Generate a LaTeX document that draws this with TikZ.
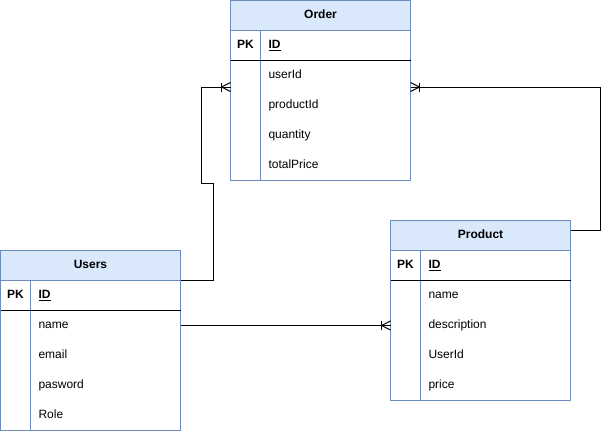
\documentclass[tikz,border=0pt]{standalone}
\usepackage{fontspec}
\setmainfont{Liberation Sans}
\usetikzlibrary{calc}
\definecolor{hdrfill}{HTML}{DAE8FC}
\definecolor{entstroke}{HTML}{6C8EBF}
\tikzset{
  ent/.style={draw=entstroke, line width=1pt},
  hdr/.style={ent, fill=hdrfill, minimum width=180pt, minimum height=30pt, inner sep=0pt, outer sep=0pt, anchor=north west, font=\fontsize{12}{14}\selectfont\bfseries, text height=9pt, text depth=2.5pt},
  pkcell/.style={minimum width=30pt, minimum height=30pt, inner sep=0pt, outer sep=0pt, anchor=north west, font=\fontsize{12}{14}\selectfont\bfseries, text height=9pt, text depth=2.5pt},
  field/.style={minimum width=150pt, minimum height=30pt, inner xsep=8pt, inner ysep=0pt, outer sep=0pt, text width=134pt, align=left, anchor=north west, font=\fontsize{12}{14}\selectfont, text height=9pt, text depth=2.5pt},
  keyfield/.style={field, font=\fontsize{12}{14}\selectfont\bfseries},
  conn/.style={draw=black, line width=1pt},
}
\newcommand\crowfoot[2]{% #1 = end point on entity edge, #2 = +1 if entity lies to the right, -1 if to the left
  \draw[conn] ($(#1)+(-#2*9,0)$) -- ($(#1)+(0,4.5)$);
  \draw[conn] ($(#1)+(-#2*9,0)$) -- ($(#1)+(0,-4.5)$);
  \draw[conn] ($(#1)+(-#2*9,4.5)$) -- ($(#1)+(-#2*9,-4.5)$);
}
\begin{document}
\begin{tikzpicture}[x=1pt,y=-1pt]
\useasboundingbox (0,0) rectangle (610,432);
% ---------- Order ----------
\node[hdr] (oh) at (230.5,0.5) {Order};
\node[pkcell] (opk) at (oh.south west) {PK};
\node[keyfield] (oid) at (opk.north east) {\underline{ID}};
\node[field] (o1) at (oid.south west) {userId};
\node[field] (o2) at (o1.south west) {productId};
\node[field] (o3) at (o2.south west) {quantity};
\node[field] (o4) at (o3.south west) {totalPrice};
\draw[ent] (oh.north west) rectangle (o4.south east);
\draw[ent] (opk.north east) -- (opk.north east |- o4.south);
\draw[conn] (opk.south west) -- (oid.south east);
% ---------- Users ----------
\node[hdr] (uh) at (0.5,250.5) {Users};
\node[pkcell] (upk) at (uh.south west) {PK};
\node[keyfield] (uid) at (upk.north east) {\underline{ID}};
\node[field] (u1) at (uid.south west) {name};
\node[field] (u2) at (u1.south west) {email};
\node[field] (u3) at (u2.south west) {pasword};
\node[field] (u4) at (u3.south west) {Role};
\draw[ent] (uh.north west) rectangle (u4.south east);
\draw[ent] (upk.north east) -- (upk.north east |- u4.south);
\draw[conn] (upk.south west) -- (uid.south east);
% ---------- Product ----------
\node[hdr] (ph) at (390.5,220.5) {Product};
\node[pkcell] (ppk) at (ph.south west) {PK};
\node[keyfield] (pid) at (ppk.north east) {\underline{ID}};
\node[field] (p1) at (pid.south west) {name};
\node[field] (p2) at (p1.south west) {description};
\node[field] (p3) at (p2.south west) {UserId};
\node[field] (p4) at (p3.south west) {price};
\draw[ent] (ph.north west) rectangle (p4.south east);
\draw[ent] (ppk.north east) -- (ppk.north east |- p4.south);
\draw[conn] (ppk.south west) -- (pid.south east);
% ---------- connectors ----------
\coordinate (ol) at (oh.west |- 0,87);
\coordinate (or) at (oh.east |- 0,87);
\coordinate (b1) at (213,183);
\coordinate (b2) at (201,183);
\coordinate (b3) at (600,87);
\coordinate (pl) at (ph.west |- u1.east);
\draw[conn] (uh.south east) -| (b1) -- (b2) |- (ol);
\crowfoot{ol}{1}
\draw[conn] (ph.east |- 0,230.5) -| (b3) -- (or);
\crowfoot{or}{-1}
\draw[conn] (u1.east) -- (pl);
\crowfoot{pl}{1}
\end{tikzpicture}
\end{document}
